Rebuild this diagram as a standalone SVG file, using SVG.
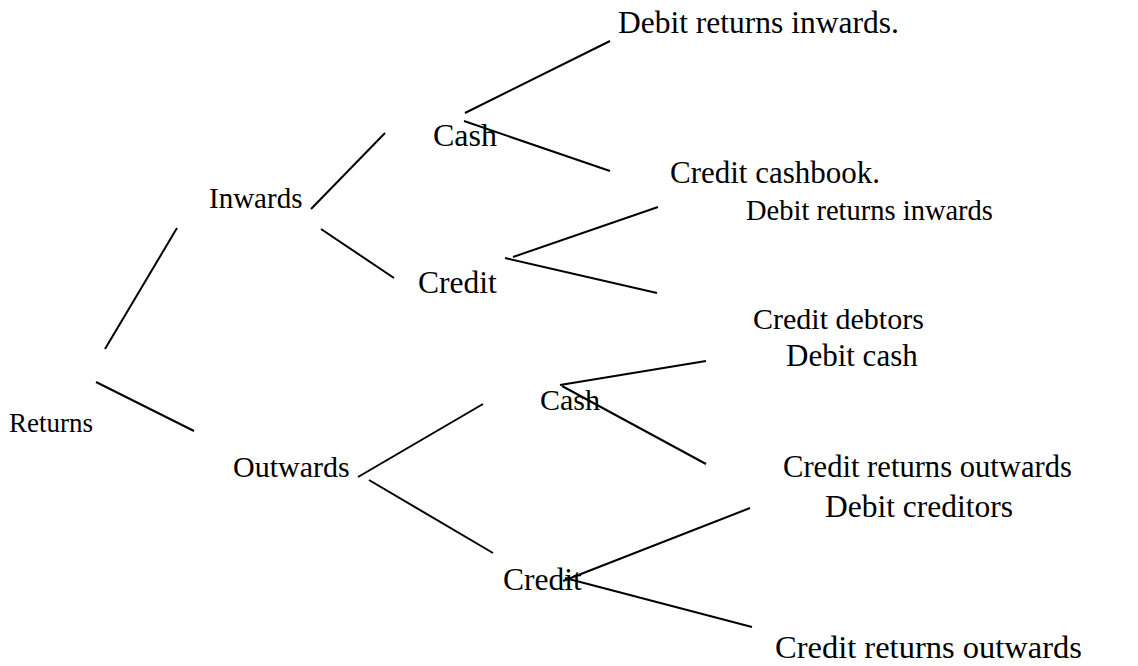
<svg xmlns="http://www.w3.org/2000/svg" width="1138" height="666" viewBox="0 0 1138 666">
<style>
text{font-family:"Liberation Serif","Times New Roman",serif;fill:#000}
.c line{stroke:#000;stroke-width:2;stroke-linecap:butt}
</style>
<rect width="1138" height="666" fill="#fff"/>
<g class="c" id="connectors">
<line x1="105" y1="349" x2="177" y2="228"/>
<line x1="96" y1="382" x2="194" y2="431"/>
<line x1="311" y1="209" x2="385" y2="133"/>
<line x1="321" y1="229" x2="394" y2="278"/>
<line x1="465" y1="113" x2="610" y2="41"/>
<line x1="464" y1="121" x2="610" y2="171"/>
<line x1="513" y1="257" x2="658" y2="207"/>
<line x1="505" y1="258" x2="657" y2="293"/>
<line x1="358" y1="477" x2="483" y2="404"/>
<line x1="369" y1="480" x2="493" y2="553"/>
<line x1="560" y1="385" x2="706" y2="361"/>
<line x1="562" y1="386" x2="706" y2="464"/>
<line x1="563" y1="581" x2="750" y2="508"/>
<line x1="565" y1="578" x2="752" y2="627"/>
</g>
<g id="returns"><text x="9" y="432" font-size="27">Returns</text></g>
<g id="inwards"><text x="209" y="208" font-size="29">Inwards</text></g>
<g id="outwards"><text x="233" y="477" font-size="30">Outwards</text></g>
<g id="cash-in"><text x="433" y="146" font-size="32">Cash</text></g>
<g id="credit-in"><text x="418" y="293" font-size="31.5">Credit</text></g>
<g id="cash-out"><text x="540" y="410" font-size="30">Cash</text></g>
<g id="credit-out"><text x="503" y="590" font-size="31.5">Credit</text></g>
<g id="debit-returns-inwards-1"><text x="618" y="33" font-size="31.5">Debit returns inwards.</text></g>
<g id="credit-cashbook"><text x="670" y="183" font-size="31">Credit cashbook.</text></g>
<g id="debit-returns-inwards-2"><text x="746" y="220" font-size="28.5">Debit returns inwards</text></g>
<g id="credit-debtors"><text x="753" y="329" font-size="30">Credit debtors</text></g>
<g id="debit-cash"><text x="786" y="366" font-size="31">Debit cash</text></g>
<g id="credit-returns-outwards-1"><text x="783" y="477" font-size="30.6">Credit returns outwards</text></g>
<g id="debit-creditors"><text x="825" y="517" font-size="31.5">Debit creditors</text></g>
<g id="credit-returns-outwards-2"><text x="775" y="658" font-size="32.5">Credit returns outwards</text></g>
</svg>
